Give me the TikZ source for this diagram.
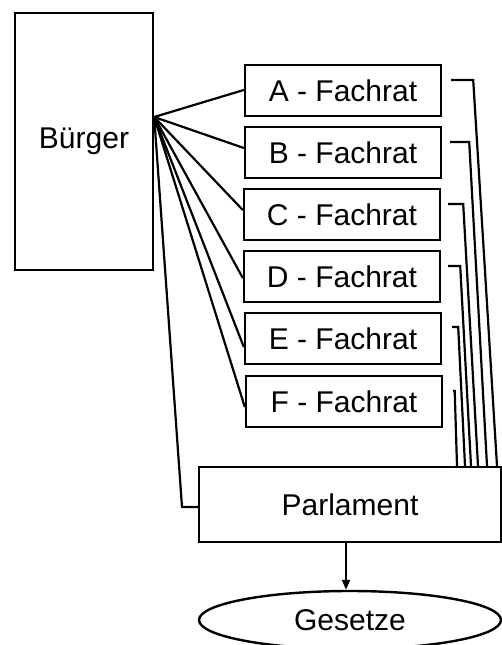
\documentclass[tikz,border=0pt]{standalone}
\usepackage{fontspec}
\setmainfont{Liberation Sans}
\usetikzlibrary{arrows.meta,shapes.geometric}
\begin{document}
\begin{tikzpicture}[x=1pt,y=-1pt,line width=2.4pt,
  txt/.style={font=\fontsize{30}{36}\selectfont},
  box/.style={draw,rectangle,inner sep=0pt,txt},
  rat/.style={box,minimum width=196pt,minimum height=51pt},
  link/.style={draw,line width=2.2pt},
  arr/.style={-{Triangle[length=10pt,width=8pt]}}]
\clip (0,0) rectangle (502,645);
\fill[white] (0,0) rectangle (502,645);
% nodes
\node[box,minimum width=138pt,minimum height=257pt] (bu) at (84,141.5) {Bürger};
\node[rat] (A) at (343,90.5) {A - Fachrat};
\node[rat] (B) at (343,152.5) {B - Fachrat};
\node[rat] (C) at (342,214.5) {C - Fachrat};
\node[rat] (D) at (342,276.5) {D - Fachrat};
\node[rat] (E) at (343,338.5) {E - Fachrat};
\node[rat] (F) at (344,401.5) {F - Fachrat};
\node[box,minimum width=302pt,minimum height=75pt] (P) at (350,504.5) {Parlament};
\node[draw,ellipse,inner sep=0pt,minimum width=302pt,minimum height=58pt,txt] (G) at (350,620) {Gesetze};
% fan from Bürger
\coordinate (fan) at ([shift={(0,-24.5)}]bu.east);
\coordinate (pk) at (182,507);
\draw[link] (fan) -- ([shift={(0,-0.5)}]A.west);
\draw[link] (fan) -- ([shift={(0,-4.5)}]B.west);
\draw[link] (fan) -- ([shift={(0,-4.5)}]C.west);
\draw[link] (fan) -- ([shift={(0,1.5)}]D.west);
\draw[link] (fan) -- ([shift={(0,8.5)}]E.west);
\draw[link] (fan) -- ([shift={(0,5.5)}]F.west);
\draw[link] (fan) -- (pk) -- ([shift={(0,2.5)}]P.west);
% Fachrat to Parlament
\draw[link] ([shift={(9,-10.5)}]A.east) -- ++(22,0) -- (P.north -| 497,0);
\draw[link] ([shift={(8,-10.5)}]B.east) -- ++(19,0) -- (P.north -| 487,0);
\draw[link] ([shift={(7,-10.5)}]C.east) -- ++(15,0) -- (P.north -| 478,0);
\draw[link] ([shift={(7,-10.5)}]D.east) -- ++(12,0) -- (P.north -| 471,0);
\draw[link] ([shift={(10,-11.5)}]E.east) -- ++(6,0) -- (P.north -| 465,0);
\draw[link] ([shift={(10,-10.5)}]F.east) -- ++(1.5,0) -- (P.north -| 457,0);
% Parlament to Gesetze
\draw[link,arr] (P.south -| 346,0) -- (G.north -| 346,0);
\end{tikzpicture}
\end{document}
